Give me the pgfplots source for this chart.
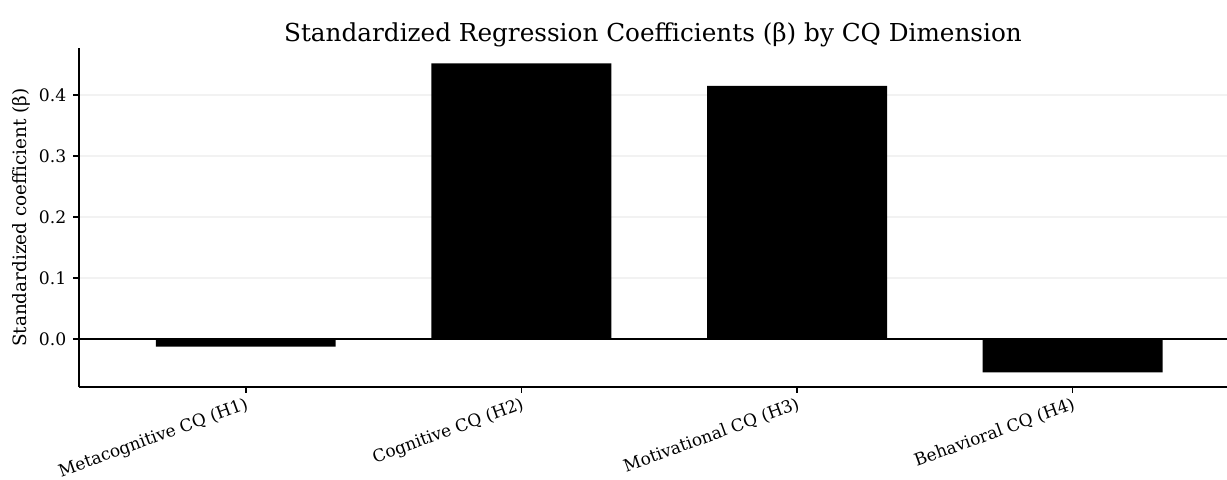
\documentclass[border=0pt]{standalone}
\usepackage{pgfplots}
\pgfplotsset{compat=1.18}
\usepackage{fontspec}
\setmainfont{DejaVu Serif}
\begin{document}
\begin{tikzpicture}
\begin{axis}[
  scale only axis,
  width=574pt, height=169.5pt,
  xmin=-0.605, xmax=3.56,
  ymin=-0.0787, ymax=0.477,
  axis x line*=bottom, axis y line*=left,
  axis line style={line width=0.9pt, black},
  tick style={line width=0.8pt, black},
  tick align=outside,
  major tick length=2.8pt,
  xtick={0,1,2,3},
  xticklabels={Metacognitive CQ (H1), Cognitive CQ (H2), Motivational CQ (H3), Behavioral CQ (H4)},
  x tick label style={rotate=20, anchor=north east, font=\fontsize{8.5}{10}\selectfont, inner sep=1pt, yshift=-0.5pt},
  ytick={0,0.1,0.2,0.3,0.4},
  yticklabel style={/pgf/number format/fixed, /pgf/number format/precision=1, /pgf/number format/fixed zerofill, font=\fontsize{8.6}{10}\selectfont},
  /pgf/number format/assume math mode=true,
  ymajorgrids,
  major grid style={black!5, line width=0.6pt},
  ylabel={Standardized coefficient (β)},
  ylabel style={font=\fontsize{9.2}{10}\selectfont, yshift=-2.5pt},
  title={Standardized Regression Coefficients (β) by CQ Dimension},
  title style={font=\fontsize{12.35}{14}\selectfont, yshift=-9pt},
  clip=false,
]
\addplot[ybar, bar width=0.653, fill=black, draw=none] coordinates {(0,-0.0126) (1,0.452) (2,0.415) (3,-0.0546)};
\addplot[black, line width=0.9pt, no marks] coordinates {(-0.605,0) (3.56,0)};
\end{axis}
\pgfresetboundingbox
\useasboundingbox (-39.5pt,-46pt) rectangle (574pt,193.5pt);
\end{tikzpicture}
\end{document}
